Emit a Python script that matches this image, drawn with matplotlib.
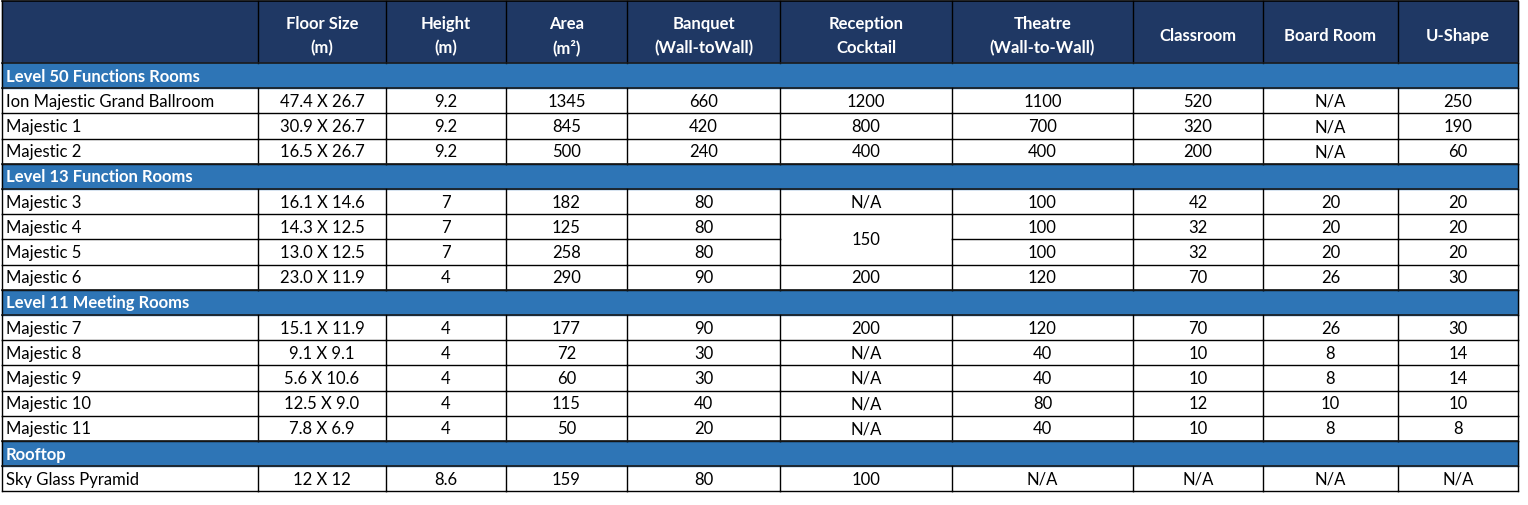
import matplotlib
matplotlib.use("Agg")
import matplotlib.pyplot as plt
from matplotlib.patches import Rectangle

headers = ["", "Floor Size\n(m)", "Height\n(m)", "Area\n(m²)", "Banquet\n(Wall-toWall)",
           "Reception\nCocktail", "Theatre\n(Wall-to-Wall)", "Classroom", "Board Room", "U-Shape"]
sections = ["Level 50 Functions Rooms", "Level 13 Function Rooms", "Level 11 Meeting Rooms", "Rooftop"]
rooms = [
    ["Ion Majestic Grand Ballroom", "Majestic 1", "Majestic 2"],
    ["Majestic 3", "Majestic 4", "Majestic 5", "Majestic 6"],
    ["Majestic 7", "Majestic 8", "Majestic 9", "Majestic 10", "Majestic 11"],
    ["Sky Glass Pyramid"],
]
floor_size = ["47.4 X 26.7", "30.9 X 26.7", "16.5 X 26.7", "16.1 X 14.6", "14.3 X 12.5", "13.0 X 12.5",
              "23.0 X 11.9", "15.1 X 11.9", "9.1 X 9.1", "5.6 X 10.6", "12.5 X 9.0", "7.8 X 6.9", "12 X 12"]
height = ["9.2", "9.2", "9.2", "7", "7", "7", "4", "4", "4", "4", "4", "4", "8.6"]
area = ["1345", "845", "500", "182", "125", "258", "290", "177", "72", "60", "115", "50", "159"]
banquet = ["660", "420", "240", "80", "80", "80", "90", "90", "30", "30", "40", "20", "80"]
reception = ["1200", "800", "400", "N/A", "150", None, "200", "200", "N/A", "N/A", "N/A", "N/A", "100"]
theatre = ["1100", "700", "400", "100", "100", "100", "120", "120", "40", "40", "80", "40", "N/A"]
classroom = ["520", "320", "200", "42", "32", "32", "70", "70", "10", "10", "12", "10", "N/A"]
board = ["N/A", "N/A", "N/A", "20", "20", "20", "26", "26", "8", "8", "10", "8", "N/A"]
ushape = ["250", "190", "60", "20", "20", "20", "30", "30", "14", "14", "10", "8", "N/A"]

W, H = 1528, 506
fig = plt.figure(figsize=(W/100, H/100), dpi=100)
ax = fig.add_axes([0, 0, 1, 1])
ax.set_xlim(0, W); ax.set_ylim(H, 0); ax.axis("off")
plt.rcParams['font.family'] = ['Lato', 'DejaVu Sans']

xs = [2, 258, 386, 506, 627, 780, 952, 1133, 1263, 1398, 1518]
top, hdr_bot, rh = 2, 64, 25.2
navy, blue = "#1f3864", "#2e75b6"
fs = 12

ax.add_patch(Rectangle((xs[0], top), xs[-1]-xs[0], hdr_bot-top, color=navy, zorder=0))
for i, h in enumerate(headers):
    ax.text((xs[i]+xs[i+1])/2, (top+hdr_bot)/2 + 3, h, ha="center", va="center", color="white",
            fontsize=fs, fontweight="bold", linespacing=1.55)
for x in xs:
    ax.plot([x, x], [top, hdr_bot], color="black", lw=1)
ax.plot([xs[0], xs[-1]], [top, top], color="black", lw=1.2)

cols = [floor_size, height, area, banquet, reception, theatre, classroom, board, ushape]
y = hdr_bot
k = 0
for s, names in zip(sections, rooms):
    ax.add_patch(Rectangle((xs[0], y), xs[-1]-xs[0], rh, color=blue, zorder=0))
    ax.text(xs[0]+4, y+rh/2, s, ha="left", va="center", color="white", fontsize=fs, fontweight="bold")
    ax.plot([xs[0], xs[-1]], [y, y], color="#1a1a1a", lw=1.2)
    ax.plot([xs[0], xs[0]], [y, y+rh], color="black", lw=1)
    ax.plot([xs[-1], xs[-1]], [y, y+rh], color="black", lw=1)
    y += rh
    ax.plot([xs[0], xs[-1]], [y, y], color="#1a1a1a", lw=1.2)
    for n in names:
        ax.text(xs[0]+4, y+rh/2, n, ha="left", va="center", color="black", fontsize=fs)
        for j, col in enumerate(cols):
            v = col[k]
            if v is None:
                continue
            cy = y+rh/2
            span = 1
            if k+1 < len(col) and col[k+1] is None:
                span = 2
                cy = y+rh
            ax.text((xs[j+1]+xs[j+2])/2, cy, v, ha="center", va="center", color="black", fontsize=fs)
            ax.plot([xs[j+1], xs[j+2]], [y+span*rh, y+span*rh], color="black", lw=1)
        ax.plot([xs[0], xs[1]], [y+rh, y+rh], color="black", lw=1)
        for x in xs:
            ax.plot([x, x], [y, y+rh], color="black", lw=1)
        y += rh
        k += 1

fig.savefig("out.png", dpi=100)
